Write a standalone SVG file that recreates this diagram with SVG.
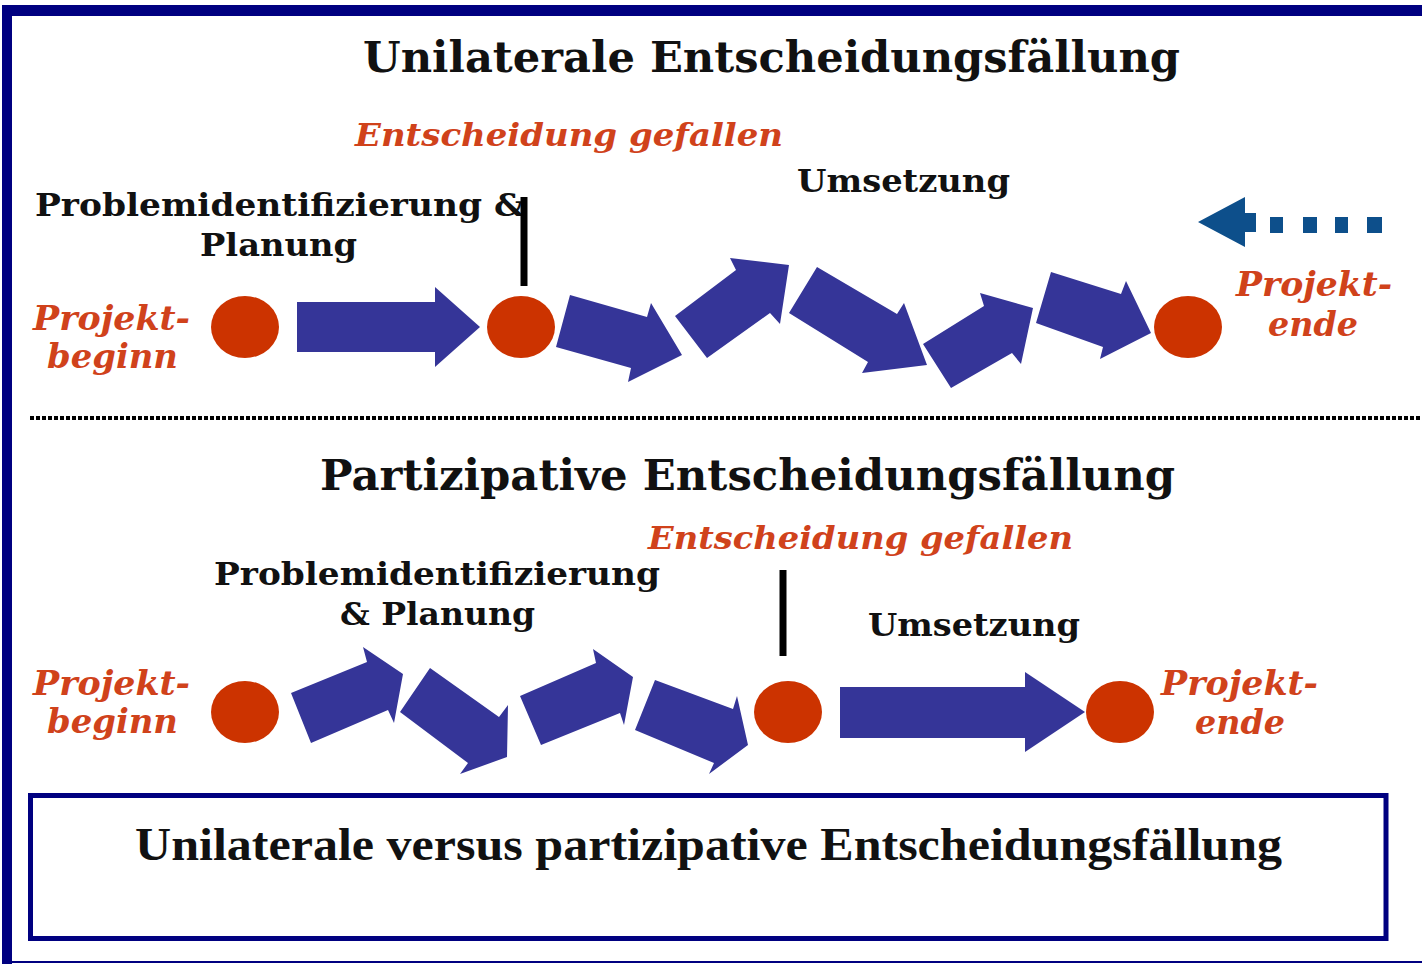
<svg xmlns="http://www.w3.org/2000/svg" width="1422" height="964" viewBox="0 0 1422 964">
<style>
.t{font-family:"DejaVu Serif","Liberation Serif",serif;font-weight:bold;fill:#111}
.r{font-family:"DejaVu Serif","Liberation Serif",serif;font-weight:bold;font-style:italic;fill:#d0421b}
.cap{font-family:"Liberation Serif","DejaVu Serif",serif;font-weight:bold;fill:#111}
.c{fill:#cc3300}
.a{fill:#353598}
.v{stroke:#000;stroke-width:7}
</style>
<rect width="1422" height="964" fill="#fff"/>
<g id="frame">
<rect x="2" y="5" width="1420" height="11" fill="#000080"/>
<rect x="2" y="5" width="10" height="959" fill="#000080"/>
<rect x="2" y="961" width="1420" height="2" fill="#000080"/>
</g>
<g id="separator">
<line x1="30" y1="418" x2="1422" y2="418" stroke="#000" stroke-width="4" stroke-dasharray="4 2"/>
</g>
<g id="top-section">
<text class="t" x="363" y="72" font-size="42" textLength="817" lengthAdjust="spacingAndGlyphs">Unilaterale Entscheidungsfällung</text>
<text class="r" x="355" y="146" font-size="32" textLength="428" lengthAdjust="spacingAndGlyphs">Entscheidung gefallen</text>
<text class="t" x="35" y="216" font-size="32" textLength="490" lengthAdjust="spacingAndGlyphs">Problemidentifizierung &amp;</text>
<text class="t" x="200" y="256" font-size="32" textLength="157" lengthAdjust="spacingAndGlyphs">Planung</text>
<text class="t" x="797" y="192" font-size="32" textLength="213" lengthAdjust="spacingAndGlyphs">Umsetzung</text>
<text class="r" x="33" y="330" font-size="34" textLength="157" lengthAdjust="spacingAndGlyphs">Projekt-</text>
<text class="r" x="47" y="368" font-size="34" textLength="131" lengthAdjust="spacingAndGlyphs">beginn</text>
<text class="r" x="1236" y="296" font-size="34" textLength="156" lengthAdjust="spacingAndGlyphs">Projekt-</text>
<text class="r" x="1268" y="336" font-size="34" textLength="90" lengthAdjust="spacingAndGlyphs">ende</text>
</g>
<g id="top-nodes">
<ellipse id="t-start" class="c" cx="245" cy="327" rx="34" ry="31"/>
<ellipse id="t-decision" class="c" cx="521" cy="327" rx="34" ry="31"/>
<ellipse id="t-end" class="c" cx="1188" cy="327" rx="34" ry="31"/>
<line class="v" x1="524" y1="197" x2="524" y2="286"/>
</g>
<g id="top-arrows">
<polygon class="a" points="297,302 435,302 435,287 480,327 435,367 435,352 297,352"/>
<polygon class="a" points="570,295 647,317 651,303 682,355 628,382 631,368 556,347"/>
<polygon class="a" points="675,316 707,358 770,313 780,324 789,265 730,258 736,270"/>
<polygon class="a" points="817,267 789,313 868,362 862,373 927,365 904,303 897,314"/>
<polygon class="a" points="923,344 951,388 1012,353 1021,364 1033,308 980,293 984,306"/>
<polygon class="a" points="1051,272 1036,323 1103,347 1100,359 1151,333 1126,281 1121,294"/>
</g>
<g id="return-arrow" fill="#0d4f8b">
<polygon points="1198,222 1245,197 1245,213 1256,213 1256,232 1245,232 1245,247"/>
<rect x="1270" y="217" width="13" height="16"/>
<rect x="1303" y="217" width="14" height="16"/>
<rect x="1335" y="217" width="13" height="16"/>
<rect x="1367" y="217" width="15" height="16"/>
</g>
<g id="bottom-section">
<text class="t" x="320" y="490" font-size="42" textLength="855" lengthAdjust="spacingAndGlyphs">Partizipative Entscheidungsfällung</text>
<text class="r" x="648" y="549" font-size="32" textLength="425" lengthAdjust="spacingAndGlyphs">Entscheidung gefallen</text>
<text class="t" x="214" y="585" font-size="32" textLength="446" lengthAdjust="spacingAndGlyphs">Problemidentifizierung</text>
<text class="t" x="340" y="625" font-size="32" textLength="195" lengthAdjust="spacingAndGlyphs">&amp; Planung</text>
<text class="t" x="868" y="636" font-size="32" textLength="212" lengthAdjust="spacingAndGlyphs">Umsetzung</text>
<text class="r" x="33" y="695" font-size="34" textLength="157" lengthAdjust="spacingAndGlyphs">Projekt-</text>
<text class="r" x="47" y="733" font-size="34" textLength="131" lengthAdjust="spacingAndGlyphs">beginn</text>
<text class="r" x="1161" y="695" font-size="34" textLength="157" lengthAdjust="spacingAndGlyphs">Projekt-</text>
<text class="r" x="1195" y="734" font-size="34" textLength="90" lengthAdjust="spacingAndGlyphs">ende</text>
</g>
<g id="bottom-nodes">
<ellipse id="b-start" class="c" cx="245" cy="712" rx="34" ry="31"/>
<ellipse id="b-decision" class="c" cx="788" cy="712" rx="34" ry="31"/>
<ellipse id="b-end" class="c" cx="1120" cy="712" rx="34" ry="31"/>
<line class="v" x1="783" y1="570" x2="783" y2="656"/>
</g>
<g id="bottom-arrows">
<polygon class="a" points="291,693 367,662 363,647 403,674 394,723 388,710 311,743"/>
<polygon class="a" points="430,668 499,717 508,705 507,757 460,774 468,763 400,712"/>
<polygon class="a" points="520,696 596,663 593,649 633,677 624,725 620,713 541,745"/>
<polygon class="a" points="655,680 733,709 737,696 748,745 709,774 714,763 635,730"/>
<polygon class="a" points="840,687 1025,687 1025,672 1085,712 1025,752 1025,738 840,738"/>
</g>
<g id="caption-box">
<rect x="30.5" y="795.5" width="1355.5" height="143" fill="none" stroke="#000080" stroke-width="5"/>
<text class="cap" x="135" y="860" font-size="46" textLength="1147" lengthAdjust="spacingAndGlyphs">Unilaterale versus partizipative Entscheidungsfällung</text>
</g>
</svg>
